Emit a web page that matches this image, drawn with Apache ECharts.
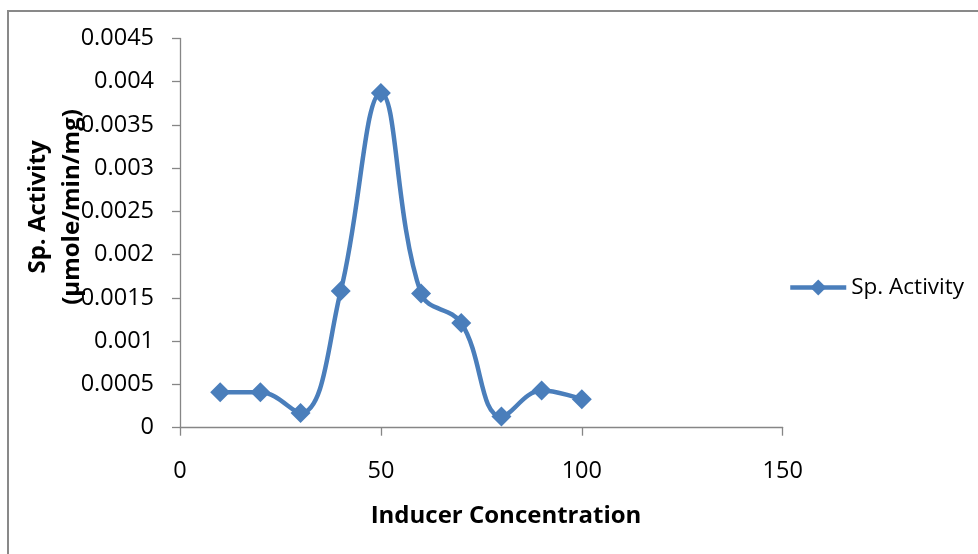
<!DOCTYPE html>
<html>
<head>
<meta charset="utf-8">
<script src="https://cdn.jsdelivr.net/npm/echarts@6/dist/echarts.min.js"></script>
<style>
html,body{margin:0;padding:0;background:#fff;}
#chart{width:978px;height:554px;}
</style>
</head>
<body>
<div id="chart"></div>
<script>
var xValues = [10, 20, 30, 40, 50, 60, 70, 80, 90, 100];
var spActivity = [0.00041, 0.00041, 0.00017, 0.00158, 0.00387, 0.00155, 0.00121, 0.00013, 0.00043, 0.00033];
var seriesName = 'Sp. Activity';
var xTitle = 'Inducer Concentration';
var yTitleLines = ['Sp. Activity', '(µmole/min/mg)'];

var font = '"Open Sans", "Liberation Sans", sans-serif';
var chart = echarts.init(document.getElementById('chart'), null, {renderer: 'canvas'});
var data = xValues.map(function (x, i) { return [x, spActivity[i]]; });

chart.setOption({
  animation: false,
  backgroundColor: '#ffffff',
  grid: {left: 180, right: 195.3, top: 38.4, bottom: 126.3, containLabel: false},
  legend: {
    left: 783, top: 271,
    itemWidth: 56, itemHeight: 20, itemGap: 4,
    lineStyle: {width: 4.5, color: '#4A7EBB'},
    textStyle: {fontFamily: font, fontSize: 22.5, color: '#000'},
    data: [seriesName]
  },
  xAxis: {
    type: 'value', min: 0, max: 150, interval: 50,
    axisLine: {show: true, lineStyle: {color: '#868686', width: 1.3}},
    axisTick: {show: true, length: 8, lineStyle: {color: '#868686', width: 1.3}},
    axisLabel: {fontFamily: font, fontSize: 23.5, color: '#000', margin: 30, lineHeight: 27},
    splitLine: {show: false}
  },
  yAxis: {
    type: 'value', min: 0, max: 0.0045, interval: 0.0005,
    axisLine: {show: true, lineStyle: {color: '#868686', width: 1.3}},
    axisTick: {show: true, length: 8, lineStyle: {color: '#868686', width: 1.3}},
    axisLabel: {fontFamily: font, fontSize: 23.5, color: '#000', margin: 26,
      formatter: function (v) { return String(parseFloat(v.toFixed(6))); }},
    splitLine: {show: false}
  },
  graphic: [
    {type: 'rect', silent: true, shape: {x: 8, y: 11, width: 1100, height: 700},
      style: {fill: 'none', stroke: '#898989', lineWidth: 2}},
    {type: 'text', silent: true, x: 506, y: 516,
      style: {text: xTitle, font: 'bold 24px ' + font, fill: '#000', textAlign: 'center', textVerticalAlign: 'middle'}},
    {type: 'text', silent: true, x: 55, y: 207, rotation: Math.PI / 2,
      style: {text: yTitleLines.join('\n'), font: 'bold 24px ' + font, lineHeight: 34, fill: '#000', textAlign: 'center', textVerticalAlign: 'middle'}}
  ],
  series: [{
    name: seriesName,
    type: 'line',
    data: data,
    smooth: 0.4,
    symbol: 'diamond',
    symbolSize: 20,
    lineStyle: {color: '#4A7EBB', width: 4.5},
    itemStyle: {color: '#4A7EBB'},
    z: 3
  }]
});
</script>
</body>
</html>
